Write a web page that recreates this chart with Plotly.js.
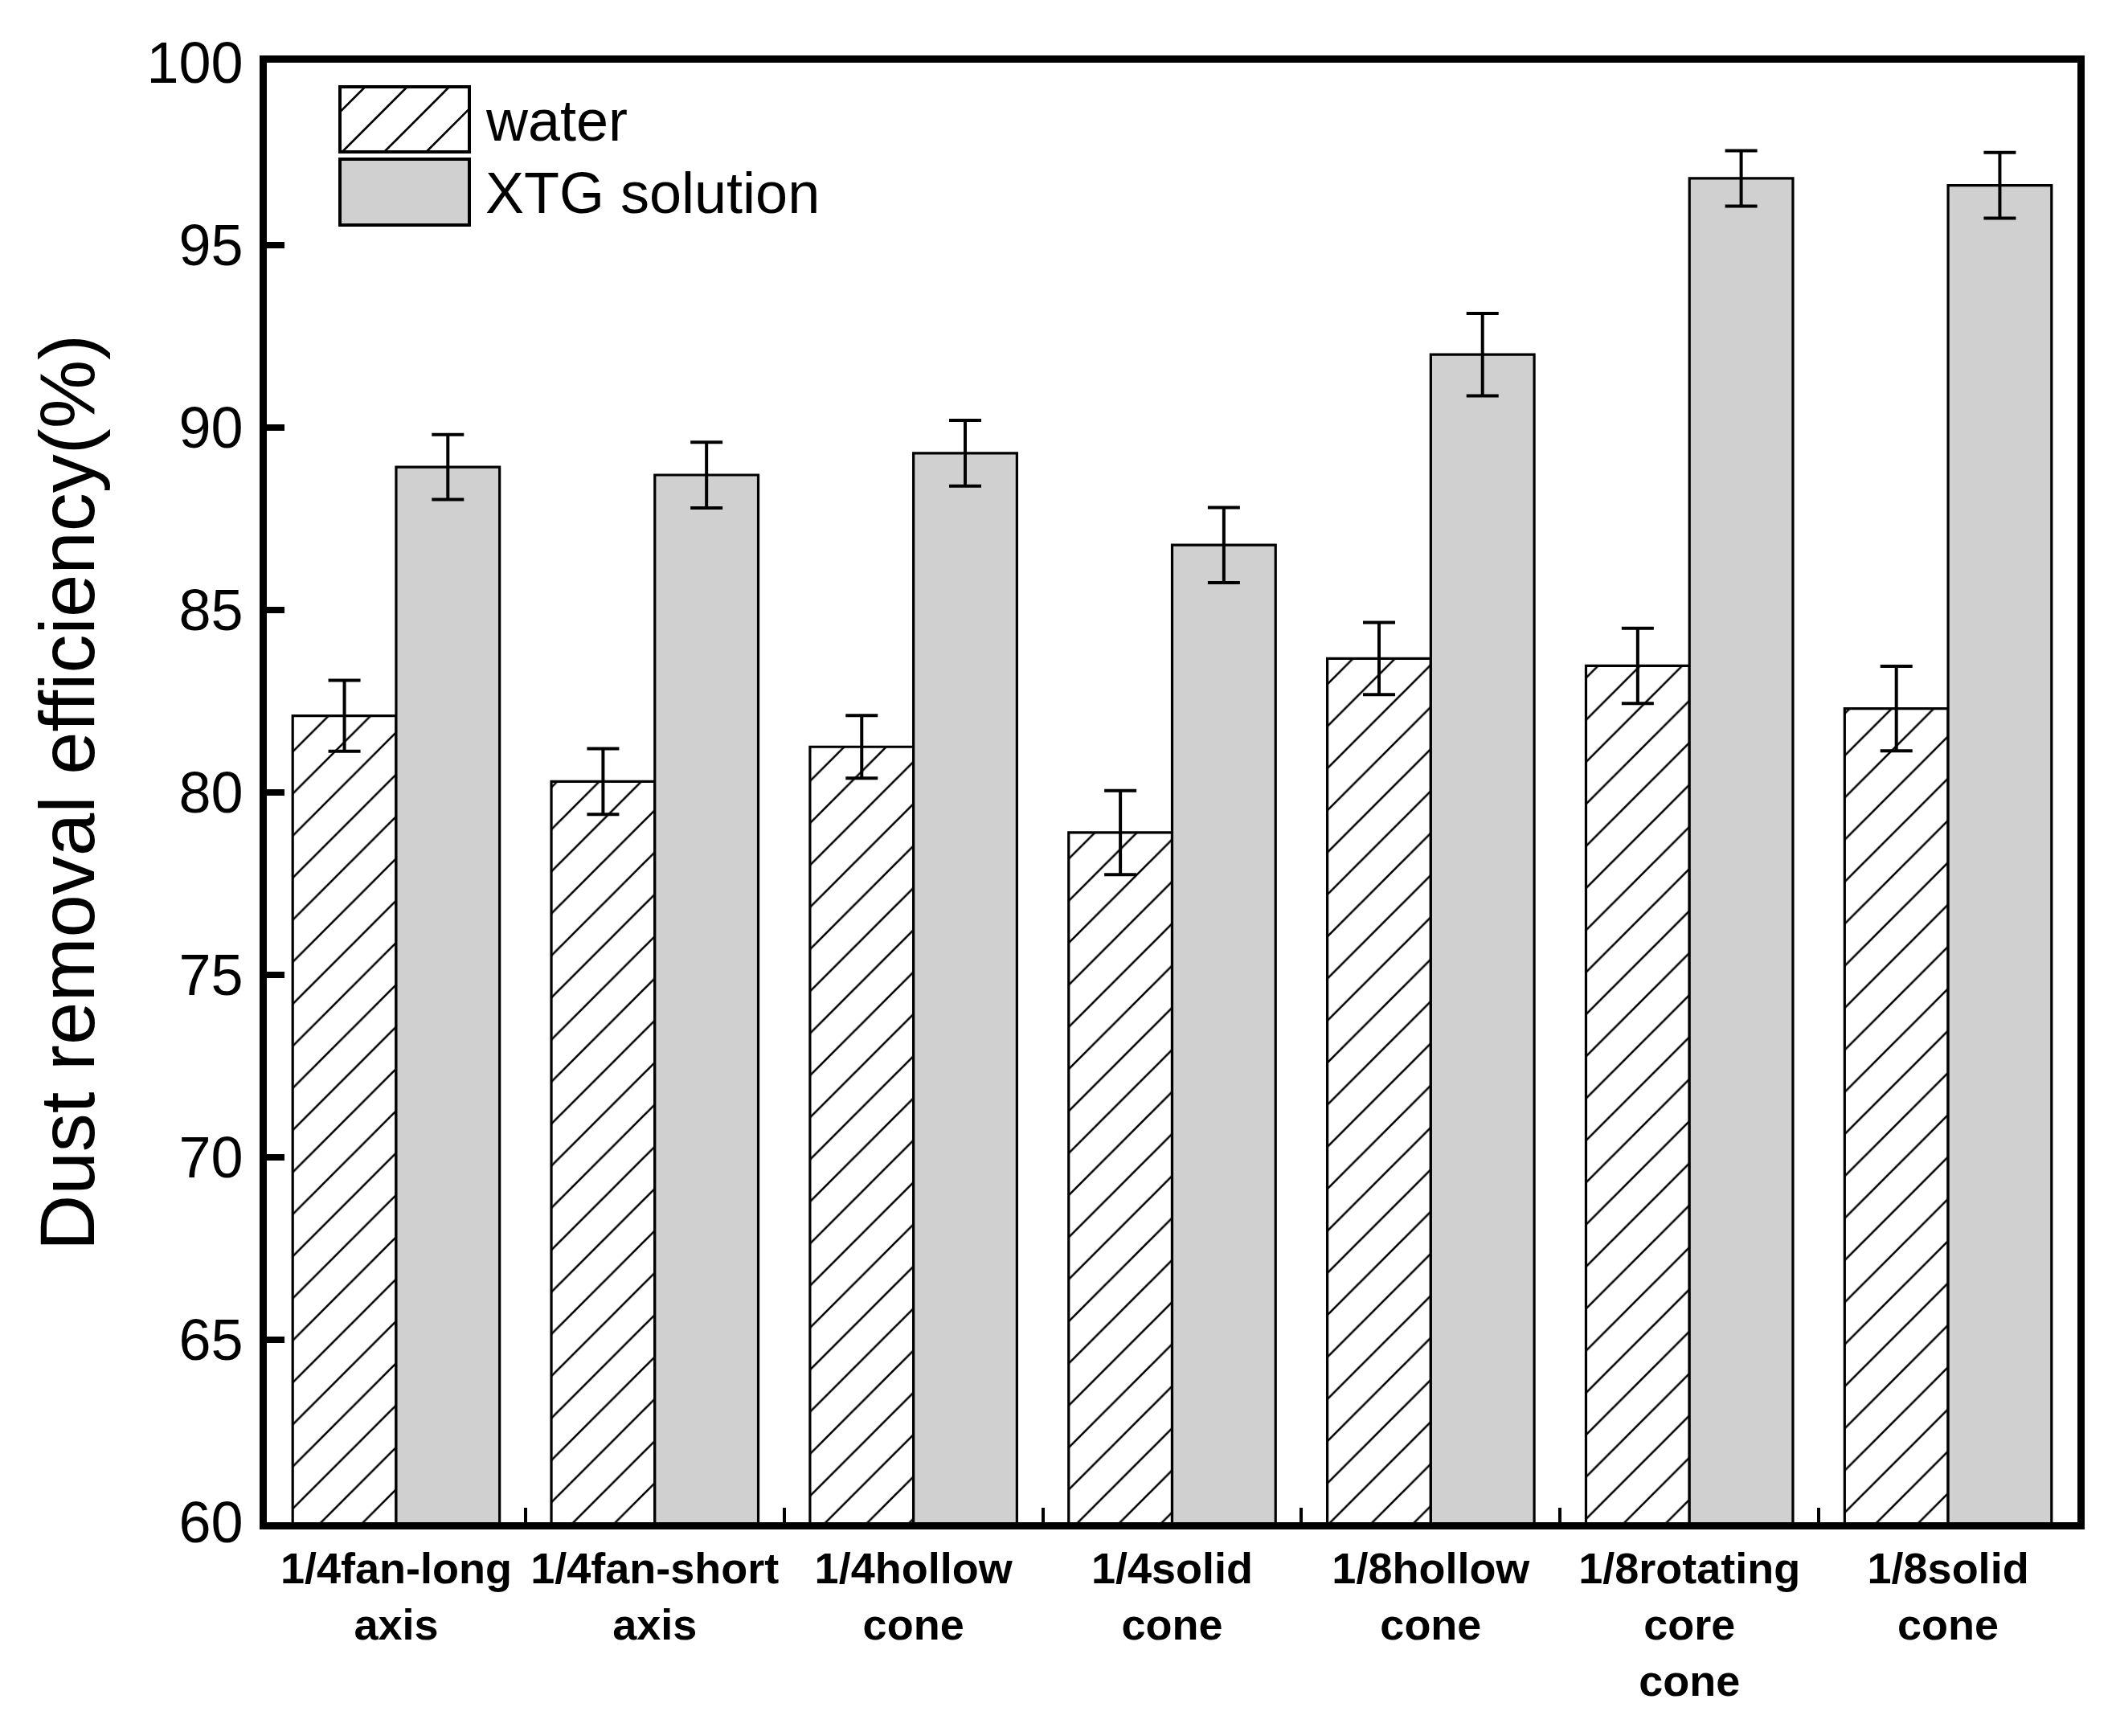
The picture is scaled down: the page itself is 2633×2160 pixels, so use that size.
<!DOCTYPE html>
<html>
<head>
<meta charset="utf-8">
<script src="https://cdn.plot.ly/plotly-3.0.1.min.js"></script>
<style>
html,body{margin:0;padding:0;background:#fff;}
#chart{width:2633px;height:2160px;}
</style>
</head>
<body>
<div id="chart"></div>
<script>
// ---- data ----
const categories = ['1/4fan-long axis','1/4fan-short axis','1/4hollow cone','1/4solid cone','1/8hollow cone','1/8rotating core cone','1/8solid cone'];
const tickLabels = ['1/4fan-long<br>axis','1/4fan-short<br>axis','1/4hollow<br>cone','1/4solid<br>cone','1/8hollow<br>cone','1/8rotating<br>core<br>cone','1/8solid<br>cone'];
const seriesNames = ['water','XTG solution'];
const waterValues = [82.1, 80.3, 81.25, 78.9, 83.67, 83.47, 82.3];
const waterErrors = [0.97, 0.9, 0.86, 1.15, 0.99, 1.03, 1.16];
const xtgValues = [88.92, 88.7, 89.3, 86.78, 92.0, 96.83, 96.64];
const xtgErrors = [0.89, 0.9, 0.9, 1.03, 1.13, 0.76, 0.9];
const yTickVals = [60,65,70,75,80,85,90,95,100];

// ---- layout constants ----
const W = 2633, H = 2160;
const M = {l:332, r:48, t:78, b:266};
const plotW = W - M.l - M.r, plotH = H - M.t - M.b;
const FONT = 'Liberation Sans, Arial, Helvetica, sans-serif';
const gray = '#d0d0d0';
const hatchSize = 37;

const errStyle = {type:'data', visible:true, thickness:4, width:20, color:'#000'};

const traces = [
  {
    type:'bar', name:seriesNames[0], x:categories, y:waterValues,
    error_y:Object.assign({array:waterErrors}, errStyle),
    marker:{color:'white', line:{color:'#000', width:3.2},
      pattern:{shape:'/', size:hatchSize, solidity:0.07, fgcolor:'#000', bgcolor:'white', fillmode:'replace'}},
    showlegend:false, hoverinfo:'skip'
  },
  {
    type:'bar', name:seriesNames[1], x:categories, y:xtgValues,
    error_y:Object.assign({array:xtgErrors}, errStyle),
    marker:{color:gray, line:{color:'#000', width:3.2}},
    showlegend:false, hoverinfo:'skip'
  }
];

// custom legend (paper coords computed from pixel layout)
function px2paperX(px){ return (px - M.l)/plotW; }
function px2paperY(py){ return (M.t + plotH - py)/plotH; }
const shapes = [];
const annotations = [];
function legendBox(x0,y0,x1,y1,fill,hatch){
  if(hatch){
    const sp = hatchSize*Math.SQRT2;
    for(let c = x0 + y0 + sp*0.6; c < x1 + y1; c += sp){
      const xa = Math.max(x0, c - y1), xb = Math.min(x1, c - y0);
      if(xb <= xa) continue;
      shapes.push({type:'line', xref:'paper', yref:'paper',
        x0:px2paperX(xa), y0:px2paperY(c - xa), x1:px2paperX(xb), y1:px2paperY(c - xb),
        line:{color:'#000', width:2.6}, layer:'above'});
    }
  }
  shapes.push({type:'rect', xref:'paper', yref:'paper',
    x0:px2paperX(x0), x1:px2paperX(x1), y0:px2paperY(y1), y1:px2paperY(y0),
    fillcolor:hatch ? 'rgba(0,0,0,0)' : fill, line:{color:'#000', width:4}, layer:'above'});
}
legendBox(423,108,584,189,'white',true);
legendBox(423,198,584,280,gray,false);
annotations.push({xref:'paper', yref:'paper', x:px2paperX(602), y:px2paperY(150), xanchor:'left', yanchor:'middle',
  text:seriesNames[0], showarrow:false, font:{family:FONT, size:72, color:'#000'}});
annotations.push({xref:'paper', yref:'paper', x:px2paperX(602), y:px2paperY(240), xanchor:'left', yanchor:'middle',
  text:seriesNames[1], showarrow:false, font:{family:FONT, size:72, color:'#000'}});

const layout = {
  width:W, height:H,
  margin:M,
  paper_bgcolor:'white', plot_bgcolor:'white',
  barmode:'group', bargap:0.2, bargroupgap:0,
  showlegend:false,
  font:{family:FONT, color:'#000'},
  xaxis:{
    type:'category', range:[-0.5, 6.5],
    tickmode:'array', tickvals:categories, ticktext:tickLabels,
    tickson:'boundaries', ticks:'inside', ticklen:18, tickwidth:4, tickcolor:'#000',
    showline:true, linecolor:'#000', linewidth:9, mirror:true,
    showgrid:false, zeroline:false,
    tickfont:{family:FONT, size:54, color:'#000', weight:'bold'},
    ticklabelstandoff:2
  },
  yaxis:{
    range:[60,100], tickmode:'array', tickvals:yTickVals,
    ticks:'inside', ticklen:22, tickwidth:8, tickcolor:'#000',
    showline:true, linecolor:'#000', linewidth:9, mirror:true,
    showgrid:false, zeroline:false,
    tickfont:{family:FONT, size:72, color:'#000'},
    ticklabelstandoff:6,
    title:{text:'Dust removal efficiency(%)', font:{family:FONT, size:96, color:'#000'}, standoff:36}
  },
  shapes:shapes,
  annotations:annotations
};

Plotly.newPlot('chart', traces, layout, {displayModeBar:false, staticPlot:true});
</script>
</body>
</html>
